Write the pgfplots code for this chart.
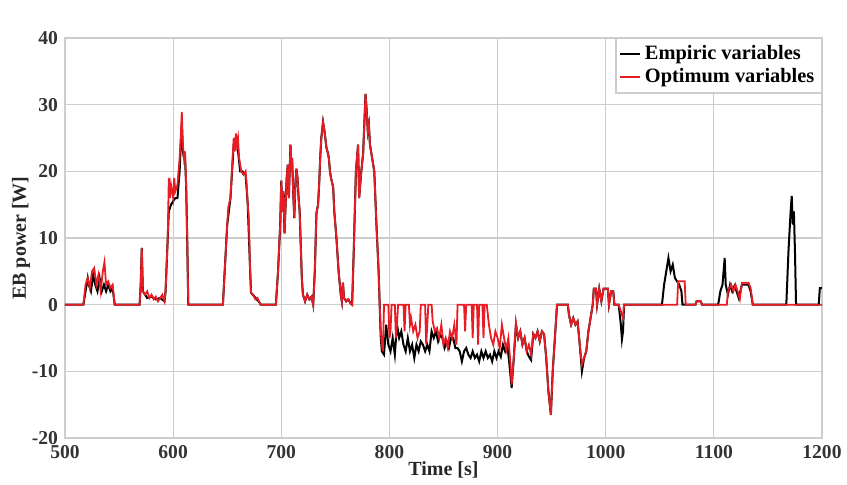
\documentclass[border=0pt]{standalone}
\usepackage{fontspec}
\setmainfont{Liberation Serif}
\usepackage{pgfplots}
\pgfplotsset{compat=1.18}
\definecolor{optred}{RGB}{232,28,36}
\definecolor{gridgray}{RGB}{205,205,205}
\begin{document}
\begin{tikzpicture}
\useasboundingbox (-32.5pt,-23pt) rectangle (391pt,219pt);
\begin{axis}[
  scale only axis,
  width=378.5pt, height=200pt,
  xmin=500, xmax=1200, ymin=-20, ymax=40,
  xtick={500,600,...,1200}, ytick={-20,-10,...,40},
  grid=major,
  major grid style={gridgray, line width=0.6pt},
  axis line style={gridgray, line width=0.8pt},
  major tick length=0pt,
  /pgf/number format/assume math mode=true,
  /pgf/number format/.cd, 1000 sep={}, /pgfplots/.cd,
  ticklabel style={font=\fontsize{9.8}{10}\selectfont\bfseries, text=black!80},
  xlabel={Time [s]}, ylabel={EB power [W]},
  label style={font=\fontsize{10}{11}\selectfont\bfseries, text=black!85},
  xlabel style={yshift=5pt},
  ylabel style={yshift=-6pt},
  legend style={at={(1,1)}, anchor=north east, draw=gridgray, line width=0.6pt,
    font=\fontsize{10.2}{11}\selectfont\bfseries, inner sep=1.5pt, row sep=-1pt,
    cells={anchor=west}},
  legend image code/.code={\draw[#1, line width=1pt] (0pt,0pt) -- (10pt,0pt);},
  legend cell align=left,
]
\addplot[black, line width=1pt] coordinates {
(500,0)(517,0)(519,2)(521,4)(522,3)(524,2)(526,4.5)(528,3)(530,2)(532,4)(534,2)(536,3)(538,2)(540,3)(542,2)(544,2.5)(546,0)
(569,0)(570,3)(571,8.5)(572,2)(574,1.5)(576,1)(580,1.2)(584,0.8)(588,1)(592,0.5)(593,2)(595,10)(596,14)(598,15)(600,15.5)(602,16)(604,16)(606,20)(607,24)(608,27)(609,23)(610,22)(611,22)(612,18)(613,10)(614,0)
(646,0)(650,12)(653,16)(656,24)(658,25)(660,23)(662,20)(664,20)(667,19.5)(669,15)(671,6)(672,1.8)(680,0.3)(681,0)
(695,0)(697,5)(699,12)(700,18.6)(701,14)(702,17)(703,10.7)(704,15)(705,19)(706,21)(707,16)(708.5,24)(709,20)(710,22)(711,17)(712,13)(713,18)(714,20.4)(715,19)(716,16)(717,14)(718,9)(719,4)(720,1.5)(722,0.5)(724,1.5)(726,0.8)(728,1.2)(729.5,0)
(731,5)(732.5,13.7)(734,15)(735,18)(736,22)(737,25)(738.6,27.4)(740,26)(741.7,23.6)(743,22.8)(744,22)(745,20)(746,19)(748,17.6)(749,14)(751,10)(753,5)(755,1.5)(756,0.5)(757,3.3)(758,1)(760,0.5)(762,0.8)(764,0.2)(765.5,0)
(767,8)(768,14)(769,20)(770,22)(771,24)(772,16)(773,18)(774,20)(775.7,22.7)(777,28)(777.9,31.6)(779,29)(780,26)(781,27)(782,24)(783,23)(784,22)(786,20)(788,12)(790,5)(791,0)
(792,-5)(793,-7)(795,-7.5)(797,-3)(799,-6)(801,-7)(803,-5)(805,-7.5)(807,-3)(809,-5)(811,-4)(813,-6)(815,-7)(817,-5)(819,-7)(821,-6)(823,-8)(825,-6)(827,-7)(829,-5.5)(831,-6)(833,-7)(835,-6)(837,-7)(839,-4)(841,-5)(843,-4)(845,-5.5)(847,-4.5)(849,-5)(851,-6.5)(853,-5.5)(855,-6.5)(857,-5)(859,-5)(861,-6.5)(863,-6.5)(865,-7)(867,-8.5)(869,-7)(871,-6.5)(873,-7.5)(875,-8)(877,-7)(879,-8)(881,-7.5)(883,-8.5)(885,-7)(887,-8)(889,-7)(891,-8)(893,-7.5)(895,-8.5)(897,-7)(899,-8)(901,-7)(903,-7.8)(905,-6)(907,-7)(909,-6)(911,-9)(913,-12.5)(915,-8)(917,-3)(919,-5)(921,-4)(923,-6)(925,-5)(927,-7)(929,-7.8)(931,-8.3)(933,-4.4)(935,-5)(937,-4)(939,-5.5)(941,-4)(943,-4.4)(945,-8)(947,-13)(949.3,-16.5)(951,-10)(953,-5)(955,0)
(965,0)(966,-1.5)(968,-3)(970,-2)(972,-3)(974,-2.5)(976,-6)(978,-10)(980,-8)(982,-7)(984,-4)(986,-2)(988,0)(989,2.4)(991,2.4)(992,0)(994,2.4)(996,0.5)(998,2.4)(1002,2.4)(1003,0)(1005,2)(1007,2)(1008,0)
(1012,0)(1014,-3)(1015,-5.2)(1016,-4)(1017,0)
(1052,0)(1054,3)(1056,5)(1058,7)(1060,5)(1062,6)(1064,4)(1066,3.5)(1068,3)(1070,2)(1071,0)
(1083,0)(1084,0.5)(1088,0.5)(1089,0)
(1104,0)(1106,2)(1108,3)(1110,7)(1111,3)(1113,1.5)(1115,3)(1117,2)(1119,2.8)(1121,2)(1123,1)(1126,3)(1132,3)(1134,2)(1136,0)
(1167,0)(1169,8)(1171,14)(1172,16.3)(1173,12)(1174,14)(1175,8)(1176,0)
(1197,0)(1198,2.5)(1200,2.5)
};
\addlegendentry{Empiric variables}
\addplot[optred, line width=0.9pt] coordinates {
(500,0)(517,0)(519,3)(521,4)(523,2.5)(525,5)(527,5.5)(529,3)(531,4.5)(533,2)(535,5)(536.5,6.4)(538,3)(540,3.5)(542,2.5)(544,3)(546,0)
(569,0)(570,3)(571,8.5)(572,2)(574,1.5)(576,2)(578,1)(580,1.5)(582,0.8)(584,1.2)(586,0.5)(588,1)(590,1.5)(592,0.5)(593,2)(595,10)(596,19)(597,16)(598,18)(600,16)(601,19)(602,17)(604,18)(605,20)(606,22)(607,25)(608,28.9)(609,24)(610,22)(611,23)(612,18)(613,10)(614,0)
(646,0)(648,6)(650,12)(651,14.6)(653,16)(655,22)(656,25)(657,23)(658,25.7)(659,24)(660,25)(661,22)(662,21)(663,20)(665,19.5)(667,20)(668,18)(669,15)(670,13)(671,6)(672,1.8)(674,1.5)(676,0.8)(678,1)(680,0.3)(681,0)
(695,0)(697,5)(699,12)(700,18.6)(701,14)(702,17)(703,10.7)(704,15)(705,19)(706,21)(707,16)(708.5,24)(709,20)(710,22)(711,17)(712,13)(713,18)(714,20.4)(715,19)(716,16)(717,14)(718,9)(719,4)(720,1.5)(722,0.5)(724,1.5)(726,0.8)(728,1.2)(729.5,0)
(731,5)(732.5,13.7)(734,15)(735,18)(736,22)(737,25)(738.6,27.4)(740,26)(741.7,23.6)(743,22.8)(744,22)(745,20)(746,19)(748,17.6)(749,14)(751,10)(753,5)(755,1.5)(756,0.5)(757,3.3)(758,1)(760,0.5)(762,0.8)(764,0.2)(765.5,0)
(767,8)(768,14)(769,20)(770,22)(771,24)(772,16)(773,18)(774,20)(775.7,22.7)(777,28)(777.9,31.6)(779,29)(780,26)(781,27)(782,24)(783,23)(784,22)(786,20)(788,12)(790,5)(791,0)
(792,-4)(793,-6)(794,-7)(795,0)(799,0)(800,-5)(801,-4)(802,0)(805,0)(806,-5)(807,-3)(808,0)(813,0)(814,-4)(815,0)(818,0)(819,-3)(820,-2)(822,-4)(824,-3)(826,-5)(828,-4)(829,0)(833,0)(834,-6)(835,-3)(836,0)(839,0)(840,-2.5)(842,-4)(844,-3.5)(846,-5)(848,-3)(850,-6)(852,-5)(854,-6.5)(856,-4)(858,-5)(860,-3)(862,-6)(863,0)(869,0)(870,-4)(871,0)(876,0)(877,-5)(878,0)(881,0)(882,-6)(883,0)(886,0)(887,-5)(888,0)(890,0)(892,-3)(894,-5)(896,-6)(898,-4)(900,-5)(902,-6.5)(904,-3)(906,-5)(908,-6.8)(910,-5)(912,-9)(913,-12)(915,-8)(917,-2.7)(919,-5)(921,-4)(923,-6)(925,-5)(927,-7)(929,-6)(931,-7.5)(933,-4.4)(935,-5)(937,-4)(939,-5.5)(941,-4)(943,-4.4)(945,-8)(947,-13)(949.3,-16.5)(951,-10)(953,-5)(955,0)
(965,0)(966,-1.5)(968,-3)(970,-2)(972,-3)(974,-2.5)(976,-6)(978,-9)(980,-8)(982,-7)(984,-4)(986,-2)(988,0)(989,2.4)(991,2.4)(992,0)(994,2.4)(996,0.5)(998,2.4)(1002,2.4)(1003,0)(1005,2)(1007,2)(1008,0)
(1012,0)(1014,-1)(1016,-2)(1017,0)
(1066,0)(1067,3.5)(1073,3.5)(1074,0)
(1083,0)(1084,0.5)(1088,0.5)(1089,0)
(1112,0)(1113,2)(1116,3)(1118,2)(1120,3)(1122,2)(1124,0.8)(1126,3.3)(1132,3.3)(1134,2.5)(1136,0)
(1200,0)
};
\addlegendentry{Optimum variables}
\end{axis}
\end{tikzpicture}
\end{document}
